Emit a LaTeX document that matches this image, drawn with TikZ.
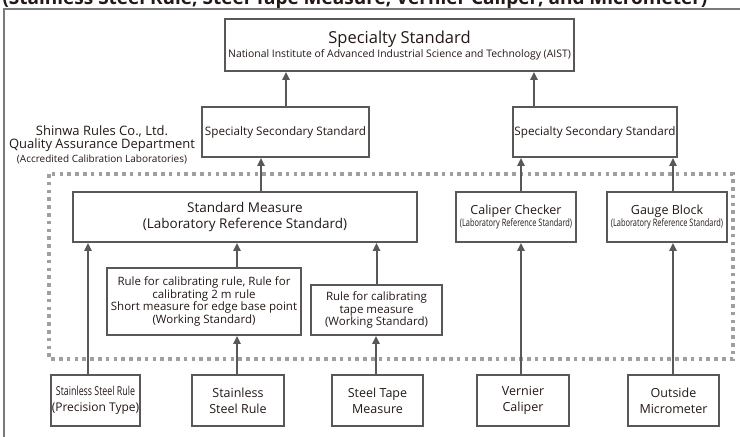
\documentclass[tikz,border=0pt]{standalone}
\usepackage{fontspec}
\setmainfont{Open Sans}
\newfontfamily\narrowfont[FakeStretch=0.72]{Open Sans}
\usetikzlibrary{arrows.meta}
\definecolor{linegray}{HTML}{595757}
\definecolor{dotgray}{HTML}{9F9FA0}
\definecolor{framegray}{HTML}{7A7A7A}
\definecolor{txtgray}{HTML}{231815}
\newcommand{\fs}[2]{\fontsize{#1}{#2}\selectfont}
\begin{document}
\begin{tikzpicture}[x=1pt, y=-1pt, font=\fs{13}{16}, text=txtgray, >={Triangle[length=8pt,width=7pt]}]
	\tikzset{box/.style={draw=linegray, line width=1.6pt, align=center, inner sep=0pt},
		conn/.style={->, draw=linegray, line width=2pt}}
	\useasboundingbox (0,0) rectangle (740,437);
	\node[anchor=base west, font=\bfseries\fs{19}{22}] (title) at (-1,4.5) {(Stainless Steel Rule, Steel Tape Measure, Vernier Caliper, and Micrometer)};
	\draw[framegray, line width=1.3pt] (4,437) -- (4,9) -- (741,9);
	\node[box, minimum width=349pt, minimum height=52pt] (aist) at (399.5,45) {{\fs{16.5}{17}Specialty Standard}\\[-2pt]{\fs{10.4}{12}National Institute of Advanced Industrial Science and Technology (AIST)}};
	\node[box, minimum width=167pt, minimum height=50pt, font=\fs{11.7}{14}] (secl) at (285.5,132) {Specialty Secondary Standard};
	\node[box, minimum width=164pt, minimum height=50pt, font=\fs{11.7}{14}] (secr) at (595,132) {Specialty Secondary Standard};
	\node[align=center, inner sep=0pt] (lab) at (102,145) {Shinwa Rules Co., Ltd.\\[-3pt]Quality Assurance Department\\[-2pt]{\fs{10}{12}(Accredited Calibration Laboratories)}};
	\draw[dotgray, line width=3.6pt, dash pattern=on 3.6pt off 4.2pt] (49,174) rectangle (733,359);
	\node[box, minimum width=344pt, minimum height=50pt, font=\fs{13.5}{15.5}] (sm) at (245,217) {Standard Measure\\(Laboratory Reference Standard)};
	\node[box, minimum width=120pt, minimum height=50pt, font=\fs{12.5}{12.5}] (cc) at (516,217) {Caliper Checker\\{\narrowfont\fs{10.3}{12.5}(Laboratory Reference Standard)}};
	\node[box, minimum width=120pt, minimum height=50pt, font=\fs{12.5}{12.5}] (gb) at (667,217) {Gauge Block\\{\narrowfont\fs{10.3}{12.5}(Laboratory Reference Standard)}};
	\node[box, minimum width=194pt, minimum height=67pt, font=\fs{11.5}{12.5}] (wsa) at (204,301.5) {Rule for calibrating rule, Rule for\\calibrating 2 m rule\\Short measure for edge base point\\(Working Standard)};
	\node[box, minimum width=131pt, minimum height=50pt, font=\fs{11.5}{12.5}] (wsb) at (376.5,310) {Rule for calibrating\\tape measure\\(Working Standard)};
	\node[box, minimum width=89pt, minimum height=51pt, font=\fs{12}{16}] (ssrp) at (95.5,400.5) {{\narrowfont\fs{12.3}{16}Stainless Steel Rule}\\(Precision Type)};
	\node[box, minimum width=92pt, minimum height=51pt, font=\fs{12.5}{16}] (ssr) at (238,400.5) {Stainless\\Steel Rule};
	\node[box, minimum width=91pt, minimum height=51pt, font=\fs{12.5}{16}] (stm) at (377.5,400.5) {Steel Tape\\Measure};
	\node[box, minimum width=92pt, minimum height=51pt, font=\fs{12.5}{16}] (vc) at (523,400.5) {Vernier\\Caliper};
	\node[box, minimum width=91pt, minimum height=51pt, font=\fs{12.5}{16}] (om) at (673.5,400.5) {Outside\\Micrometer};
	\draw[conn] ([xshift=0.5pt]secl.north) -- ([xshift=0.5pt]secl.north |- aist.south);
	\draw[conn] ([xshift=-61pt]secr.north) -- ([xshift=-61pt]secr.north |- aist.south);
	\draw[conn] ([xshift=16pt]sm.north) -- ([xshift=16pt]sm.north |- secl.south);
	\draw[conn] ([xshift=5pt]cc.north) -- ([xshift=5pt]cc.north |- secr.south);
	\draw[conn] ([xshift=6pt]gb.north) -- ([xshift=6pt]gb.north |- secr.south);
	\draw[conn] ([xshift=33pt]wsa.north) -- ([xshift=33pt]wsa.north |- sm.south);
	\draw[conn] (wsb.north) -- (wsb.north |- sm.south);
	\draw[conn] ([xshift=-7.5pt]ssrp.north) -- ([xshift=-7.5pt]ssrp.north |- sm.south);
	\draw[conn] ([xshift=-1pt]ssr.north) -- ([xshift=-1pt]ssr.north |- wsa.south);
	\draw[conn] ([xshift=-1.5pt]stm.north) -- ([xshift=-1.5pt]stm.north |- wsb.south);
	\draw[conn] ([xshift=-2pt]vc.north) -- ([xshift=-2pt]vc.north |- cc.south);
	\draw[conn] ([xshift=-0.5pt]om.north) -- ([xshift=-0.5pt]om.north |- gb.south);
\end{tikzpicture}
\end{document}
